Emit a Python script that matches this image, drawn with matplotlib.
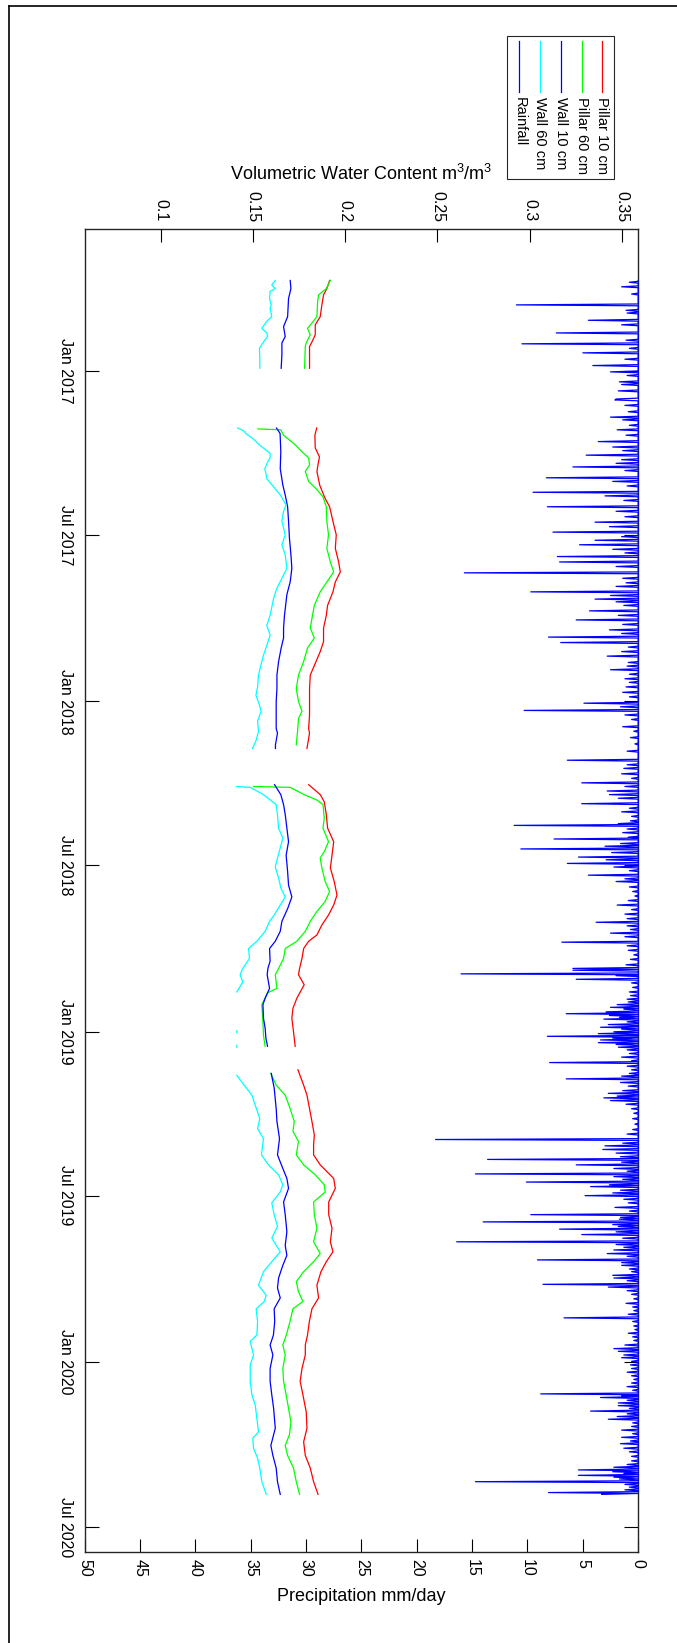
import numpy as np
import matplotlib
matplotlib.use("Agg")
import matplotlib.pyplot as plt
from matplotlib.lines import Line2D
from matplotlib.patches import Rectangle

plt.rcParams["font.family"] = ["Liberation Sans", "DejaVu Sans"]
plt.rcParams["mathtext.fontset"] = "custom"
plt.rcParams["mathtext.rm"] = "Liberation Sans"
plt.rcParams["mathtext.it"] = "Liberation Sans:italic"
plt.rcParams["mathtext.bf"] = "Liberation Sans:bold"

nan = np.nan

# ---------------------------------------------------------------------------
# Data: all times are days after 1 Jan 2017; NaN values split the record gaps
# ---------------------------------------------------------------------------
DAY0 = np.datetime64("2017-01-01T00:00")

pillar10_day = [-100, -91, -84, -73, -60, -51, -40, -32, -27, -3, 30,
                63, 71, 85, 95, 100, 111, 126, 141, 150, 166, 181, 196, 211, 222, 233, 244, 259, 270,
                284, 299, 310, 323, 336, 351, 365, 380, 395, 400, 417, 440,
                457, 468, 476, 490, 505, 520, 535, 549, 564, 579, 590, 601, 612, 623, 630, 638, 649,
                660, 667, 678, 693, 704, 715, 730, 746, 760,
                772, 789, 800, 815, 829, 844, 855, 866, 877, 892, 903, 918, 932, 947, 962, 973, 984,
                995, 1010, 1024, 1036, 1050, 1065, 1076, 1087, 1102, 1116, 1131, 1150, 1168, 1183,
                1198, 1212, 1227, 1241]
pillar10 = [0.1915, 0.1900, 0.1882, 0.1873, 0.1864, 0.1837, 0.1837, 0.1819, 0.1806, 0.1806, nan,
            0.1845, 0.1835, 0.1837, 0.1860, 0.1855, 0.1846, 0.1861, 0.1891, 0.1915, 0.1933, 0.1951,
            0.1946, 0.1964, 0.1973, 0.1946, 0.1933, 0.1904, 0.1897, 0.1882, 0.1882, 0.1864, 0.1837,
            0.1810, 0.1806, 0.1806, 0.1806, 0.1801, 0.1806, 0.1792, nan,
            0.1801, 0.1864, 0.1886, 0.1897, 0.1904, 0.1937, 0.1928, 0.1919, 0.1940, 0.1955, 0.1937,
            0.1909, 0.1873, 0.1846, 0.1801, 0.1774, 0.1765, 0.1752, 0.1746, 0.1777, 0.1737, 0.1716,
            0.1710, 0.1719, 0.1728, nan,
            0.1743, 0.1774, 0.1792, 0.1806, 0.1819, 0.1832, 0.1828, 0.1828, 0.1864, 0.1937, 0.1946,
            0.1910, 0.1910, 0.1928, 0.1919, 0.1933, 0.1897, 0.1868, 0.1846, 0.1855, 0.1819, 0.1805,
            0.1795, 0.1783, 0.1783, 0.1765, 0.1755, 0.1770, 0.1788, 0.1792, 0.1774, 0.1783, 0.1810,
            0.1828, 0.1852]

pillar60_day = [-100, -91, -84, -77, -60, -53, -47, -40, -31, -27, -3, 30,
                64, 65, 71, 80, 91, 96, 104, 111, 122, 131, 139, 150, 166, 181, 196, 211, 222, 233,
                244, 259, 270, 284, 295, 306, 321, 336, 351, 365, 376, 384, 398, 413, 440,
                459, 460, 468, 474, 479, 494, 505, 520, 531, 538, 549, 564, 575, 586, 597, 608, 619,
                630, 638, 649, 660, 667, 682, 687, 700, 719, 734, 746, 760,
                776, 789, 800, 815, 829, 840, 851, 866, 877, 888, 899, 907, 918, 932, 947, 962, 975,
                984, 995, 1006, 1017, 1028, 1036, 1050, 1065, 1076, 1087, 1102, 1116, 1131, 1146,
                1161, 1175, 1187, 1198, 1212, 1227, 1241]
pillar60 = [0.1919, 0.1897, 0.1855, 0.1850, 0.1846, 0.1819, 0.1795, 0.1810, 0.1788, 0.1783, 0.1779, nan,
            0.1526, 0.1650, 0.1665, 0.1720, 0.1774, 0.1801, 0.1806, 0.1783, 0.1801, 0.1846, 0.1879,
            0.1897, 0.1900, 0.1909, 0.1900, 0.1919, 0.1937, 0.1900, 0.1864, 0.1832, 0.1822, 0.1810,
            0.1832, 0.1795, 0.1774, 0.1746, 0.1734, 0.1746, 0.1765, 0.1746, 0.1741, 0.1734, nan,
            0.1502, 0.1701, 0.1777, 0.1846, 0.1879, 0.1886, 0.1879, 0.1909, 0.1886, 0.1864, 0.1873,
            0.1891, 0.1915, 0.1891, 0.1846, 0.1810, 0.1783, 0.1737, 0.1674, 0.1665, 0.1638, 0.1620,
            0.1629, 0.1578, 0.1547, 0.1553, 0.1556, 0.1565, nan,
            0.1596, 0.1625, 0.1674, 0.1701, 0.1723, 0.1716, 0.1746, 0.1734, 0.1774, 0.1837, 0.1886,
            0.1891, 0.1828, 0.1832, 0.1846, 0.1828, 0.1864, 0.1828, 0.1774, 0.1734, 0.1746, 0.1770,
            0.1716, 0.1700, 0.1680, 0.1661, 0.1674, 0.1661, 0.1665, 0.1679, 0.1692, 0.1705, 0.1697,
            0.1674, 0.1687, 0.1719, 0.1734, 0.1752]

wall10_day = [-100, -91, -80, -60, -49, -38, -31, -18, -3, 30,
              63, 69, 89, 108, 126, 137, 150, 166, 185, 203, 218, 233, 247, 270, 284, 295, 306, 321,
              336, 351, 365, 380, 395, 400, 413, 417, 440,
              457, 468, 479, 490, 505, 520, 535, 553, 568, 581, 594, 608, 619, 630, 638, 652, 660,
              667, 682, 693, 700, 715, 726, 737, 746, 760,
              776, 792, 815, 829, 848, 866, 881, 892, 903, 918, 932, 951, 966, 977, 988, 1002, 1013,
              1024, 1036, 1050, 1065, 1076, 1087, 1102, 1116, 1131, 1146, 1168, 1187, 1198, 1212,
              1227, 1241]
wall10 = [0.1701, 0.1705, 0.1692, 0.1687, 0.1665, 0.1674, 0.1656, 0.1656, 0.1652, nan,
          0.1627, 0.1646, 0.1650, 0.1647, 0.1661, 0.1674, 0.1687, 0.1692, 0.1697, 0.1705, 0.1710,
          0.1701, 0.1683, 0.1670, 0.1665, 0.1665, 0.1652, 0.1638, 0.1629, 0.1629, 0.1625, 0.1625,
          0.1625, 0.1632, 0.1621, 0.1621, nan,
          0.1616, 0.1650, 0.1665, 0.1674, 0.1683, 0.1692, 0.1679, 0.1687, 0.1692, 0.1710, 0.1687,
          0.1656, 0.1647, 0.1620, 0.1589, 0.1592, 0.1580, 0.1576, 0.1589, 0.1565, 0.1553, 0.1556,
          0.1565, 0.1569, 0.1578, nan,
          0.1598, 0.1614, 0.1625, 0.1629, 0.1643, 0.1632, 0.1661, 0.1683, 0.1692, 0.1665, 0.1674,
          0.1683, 0.1674, 0.1683, 0.1661, 0.1638, 0.1632, 0.1647, 0.1614, 0.1617, 0.1610, 0.1592,
          0.1607, 0.1592, 0.1592, 0.1601, 0.1611, 0.1620, 0.1596, 0.1607, 0.1625, 0.1632, 0.1647]

wall60_day = [-100, -95, -91, -88, -80, -73, -69, -60, -55, -47, -42, -38, -32, -25, -14, -3, 30,
              63, 66, 69, 75, 82, 91, 96, 100, 108, 114, 119, 128, 137, 148, 155, 166, 181, 192,
              203, 218, 229, 240, 251, 270, 281, 292, 305, 314, 325, 336, 349, 358, 369, 376, 387,
              398, 408, 417, 440,
              459, 460, 468, 479, 490, 505, 516, 527, 538, 548, 560, 571, 581, 590, 601, 608, 619,
              630, 638, 649, 660, 667, 675, 686, 710, 729, 731, 738, 745, 747, 760,
              778, 789, 800, 811, 826, 837, 848, 866, 877, 888, 899, 907, 919, 932, 945, 958, 973,
              984, 995, 1010, 1021, 1028, 1036, 1050, 1065, 1072, 1087, 1098, 1116, 1131, 1142,
              1157, 1172, 1179, 1190, 1201, 1212, 1227, 1241]
wall60 = [0.1620, 0.1601, 0.1620, 0.1592, 0.1589, 0.1598, 0.1592, 0.1601, 0.1574, 0.1547, 0.1574,
          0.1578, 0.1556, 0.1534, 0.1536, 0.1536, nan,
          0.1416, 0.1448, 0.1460, 0.1500, 0.1536, 0.1592, 0.1592, 0.1580, 0.1563, 0.1570, 0.1574,
          0.1611, 0.1647, 0.1679, 0.1665, 0.1656, 0.1674, 0.1656, 0.1674, 0.1683, 0.1656, 0.1629,
          0.1611, 0.1592, 0.1574, 0.1592, 0.1571, 0.1556, 0.1542, 0.1529, 0.1524, 0.1515, 0.1534,
          0.1543, 0.1524, 0.1529, 0.1516, 0.1496, nan,
          0.1411, 0.1484, 0.1556, 0.1625, 0.1632, 0.1638, 0.1661, 0.1647, 0.1632, 0.1620, 0.1638,
          0.1650, 0.1674, 0.1647, 0.1614, 0.1589, 0.1565, 0.1520, 0.1475, 0.1480, 0.1444, 0.1429,
          0.1444, 0.1411, nan, 0.1411, 0.1411, nan, 0.1411, 0.1411, nan,
          0.1411, 0.1451, 0.1493, 0.1511, 0.1536, 0.1524, 0.1556, 0.1545, 0.1583, 0.1638, 0.1661,
          0.1647, 0.1601, 0.1614, 0.1632, 0.1601, 0.1647, 0.1601, 0.1556, 0.1529, 0.1571, 0.1560,
          0.1516, 0.1524, 0.1520, 0.1484, 0.1502, 0.1484, 0.1484, 0.1493, 0.1511, 0.1520, 0.1529,
          0.1498, 0.1502, 0.1524, 0.1536, 0.1547, 0.1571]

# daily rainfall (mm/day); days not listed had no rain
rain_first, rain_last = -100, 1241
rain_day = [-98, -93, -85, -73, -67, -64, -56, -51, -42, -34, -30, -25, -20, -13, -6, 1, 5, 12, 15,
            22, 31, 32, 38, 45, 51, 54, 60, 65, 71, 78, 84, 88, 93, 98, 102, 106, 110, 118, 122,
            127, 134, 138, 143, 150, 155, 161, 167, 172, 178, 183, 187, 192, 197, 201, 205, 211,
            216, 223, 229, 234, 238, 244, 248, 252, 255, 259, 265, 270, 275, 280, 286, 290, 294,
            300, 305, 310, 315, 322, 326, 330, 335, 340, 344, 349, 355, 360, 367, 371, 375, 380,
            385, 393, 398, 405, 412, 420, 430, 435, 439, 445, 450, 455, 459, 464, 468, 472, 478,
            483, 487, 492, 497, 500, 502, 506, 510, 515, 517, 522, 525, 528, 532, 537, 540, 544,
            548, 552, 557, 561, 564, 570, 575, 580, 585, 590, 595, 600, 605, 609, 613, 617, 621,
            625, 631, 635, 640, 645, 650, 656, 660, 662, 666, 668, 672, 676, 681, 686, 690, 694,
            697, 700, 703, 705, 708, 710, 712, 714, 716, 719, 722, 725, 727, 730, 732, 735, 737,
            739, 742, 744, 747, 750, 754, 758, 762, 764, 768, 772, 776, 779, 782, 786, 790, 795,
            798, 801, 803, 806, 810, 815, 820, 826, 832, 838, 843, 849, 853, 856, 860, 864, 868,
            871, 874, 877, 881, 884, 887, 890, 893, 896, 899, 901, 905, 908, 911, 915, 919, 924,
            928, 932, 935, 937, 940, 943, 945, 948, 951, 954, 958, 962, 965, 968, 971, 975, 978,
            982, 985, 988, 992, 995, 999, 1002, 1005, 1009, 1012, 1016, 1020, 1025, 1030, 1034,
            1038, 1042, 1046, 1050, 1055, 1059, 1063, 1067, 1071, 1076, 1080, 1083, 1087, 1090,
            1094, 1098, 1102, 1106, 1110, 1114, 1118, 1122, 1126, 1130, 1132, 1134, 1137, 1140,
            1143, 1146, 1149, 1152, 1155, 1158, 1162, 1166, 1170, 1174, 1178, 1182, 1185, 1190,
            1194, 1199, 1204, 1208, 1211, 1214, 1216, 1218, 1220, 1222, 1224, 1227, 1230, 1233,
            1236, 1239, 1241]
rain_mm = [0.8, 1.5, 0.6, 11.0, 1.1, 1.0, 4.5, 1.5, 7.4, 1.1, 10.5, 0.8, 5.0, 1.2, 4.1, 2.5, 1.0,
           1.7, 1.5, 1.8, 2.0, 2.1, 1.2, 0.9, 2.5, 1.4, 0.8, 1.9, 1.1, 3.6, 2.3, 1.4, 4.7, 1.5,
           2.0, 5.9, 1.2, 8.3, 2.3, 1.0, 9.5, 3.0, 1.3, 8.2, 2.0, 1.2, 3.9, 2.6, 7.7, 1.5, 3.9,
           5.3, 2.3, 1.2, 7.3, 7.1, 2.0, 15.7, 1.4, 1.1, 2.0, 9.7, 2.5, 3.9, 2.0, 1.3, 4.4, 1.8,
           5.6, 1.4, 2.6, 1.5, 8.1, 7.0, 0.9, 1.5, 2.8, 0.9, 1.0, 2.5, 0.8, 1.2, 0.8, 1.1, 1.4,
           0.8, 4.9, 1.6, 10.3, 1.2, 0.6, 1.4, 0.4, 0.7, 0.3, 1.0, 6.4, 1.0, 1.3, 1.5, 0.6, 5.1,
           1.2, 2.8, 2.6, 1.8, 5.1, 0.8, 1.5, 0.6, 0.7, 1.8, 11.2, 1.0, 1.4, 0.9, 7.6, 1.6, 3.0,
           10.6, 2.4, 5.4, 2.9, 6.4, 2.2, 0.8, 4.5, 1.2, 2.0, 0.8, 0.5, 0.3, 0.9, 1.9, 0.6, 1.2,
           1.0, 3.8, 1.0, 0.7, 2.5, 1.2, 6.9, 1.0, 0.9, 0.4, 0.7, 1.1, 5.9, 5.9, 16.0, 2.0, 5.6,
           0.6, 0.5, 0.8, 0.7, 1.0, 0.9, 1.9, 2.5, 1.3, 2.9, 6.5, 2.6, 1.7, 3.1, 1.0, 2.7, 3.4,
           1.5, 2.2, 3.6, 8.2, 2.3, 3.4, 3.6, 2.0, 1.8, 1.0, 0.8, 1.5, 0.6, 8.0, 1.0, 0.6, 0.8,
           1.5, 6.5, 1.6, 0.9, 1.4, 2.7, 1.9, 3.1, 2.5, 1.1, 0.6, 0.4, 0.5, 0.3, 0.5, 1.0, 18.3,
           1.4, 3.0, 3.2, 2.0, 1.6, 13.6, 1.5, 5.6, 2.2, 1.0, 14.7, 2.2, 1.4, 10.1, 2.6, 4.3, 1.6,
           2.3, 4.8, 1.3, 0.9, 2.1, 0.8, 9.7, 1.6, 1.7, 14.0, 2.3, 1.8, 7.1, 2.0, 5.1, 1.4, 16.4,
           2.0, 1.3, 2.2, 2.8, 1.0, 9.1, 1.5, 1.5, 0.8, 0.6, 2.3, 2.2, 1.0, 8.6, 2.7, 1.0, 0.6,
           0.4, 1.1, 0.5, 0.4, 0.9, 6.7, 0.5, 0.4, 0.3, 0.9, 0.5, 0.4, 1.2, 2.2, 1.8, 1.3, 1.5,
           0.6, 0.7, 0.6, 1.0, 0.6, 0.4, 0.6, 1.0, 0.5, 8.8, 1.5, 3.4, 1.0, 1.8, 1.8, 0.8, 4.3,
           1.0, 1.9, 2.7, 0.5, 0.6, 1.5, 0.5, 1.5, 0.7, 1.6, 1.3, 0.8, 0.6, 0.6, 1.0, 2.2, 5.4,
           2.3, 1.3, 5.4, 2.2, 1.7, 14.7, 1.2, 0.8, 1.2, 8.1, 3.3]

precip_ticks = [0, 5, 10, 15, 20, 25, 30, 35, 40, 45, 50]
vwc_ticks = [0.1, 0.15, 0.2, 0.25, 0.3, 0.35]
vwc_tick_labels = ["0.1", "0.15", "0.2", "0.25", "0.3", "0.35"]
date_ticks = ["2017-01-01", "2017-07-01", "2018-01-01", "2018-07-01",
              "2019-01-01", "2019-07-01", "2020-01-01", "2020-07-01"]
date_tick_labels = ["Jan 2017", "Jul 2017", "Jan 2018", "Jul 2018",
                    "Jan 2019", "Jul 2019", "Jan 2020", "Jul 2020"]

series = [("Pillar 10 cm", pillar10_day, pillar10, "#ff0000"),
          ("Pillar 60 cm", pillar60_day, pillar60, "#00ff00"),
          ("Wall 10 cm", wall10_day, wall10, "#0000ff"),
          ("Wall 60 cm", wall60_day, wall60, "#00ffff")]
rain_colour = "#0000ff"


def to_dates(days):
    hours = np.round(np.asarray(days, dtype=float) * 24).astype(int)
    return DAY0 + hours.astype("timedelta64[h]")


# ---------------------------------------------------------------------------
# Figure (the whole plot is laid out turned a quarter turn clockwise)
# ---------------------------------------------------------------------------
W, H = 677, 1643
fig = plt.figure(figsize=(W / 100, H / 100), dpi=100)


def fx(px):
    return px / W


def fy(py):
    return 1 - py / H


ax_l, ax_r, ax_t, ax_b = 84.6, 638.2, 229.3, 1552.3
ax = fig.add_axes([fx(ax_l), fy(ax_b), fx(ax_r) - fx(ax_l), fy(ax_t) - fy(ax_b)])

# rainfall as a daily line hanging from the zero edge
all_days = np.arange(rain_first, rain_last + 1)
daily = np.zeros(all_days.size)
daily[np.asarray(rain_day) - rain_first] = rain_mm
ax.plot(daily, to_dates(all_days), color=rain_colour, lw=0.9, zorder=3, clip_on=False)

ax.set_xlim(50, 0)
ax.set_ylim(to_dates([1305.0])[0], to_dates([-156.5])[0])

tick_fs = 11.5
ax.set_xticks(precip_ticks)
ax.set_xticklabels([str(t) for t in precip_ticks], rotation=-90, ha="center", va="top",
                   fontsize=tick_fs)
ax.set_yticks(np.array(date_ticks, dtype="datetime64[h]"))
ax.set_yticklabels(date_tick_labels, rotation=-90, ha="right", va="center", fontsize=tick_fs)
ax.tick_params(axis="x", direction="in", length=9.4, width=0.8, pad=5, color="black")
ax.tick_params(axis="y", direction="in", length=10, width=0.8, pad=8, left=True, right=True)
for s in ax.spines.values():
    s.set_linewidth(1.0)
    s.set_color("#262626")

# soil moisture on a second horizontal scale along the top
ax2 = ax.twiny()
for name, d, v, c in series:
    ax2.plot(v, to_dates(d), color=c, lw=0.9)
ax2.set_xlim(0.0585, 0.3590)
ax2.set_xticks(vwc_ticks)
ax2.set_xticklabels(vwc_tick_labels, rotation=-90, ha="center", va="bottom", fontsize=tick_fs)
ax2.tick_params(axis="x", direction="in", length=9.4, width=0.8, pad=5.5)
for s in ax2.spines.values():
    s.set_visible(False)

# axis titles
fig.text(fx((ax_l + ax_r) / 2), fy(180), r"Volumetric Water Content m$^3$/m$^3$",
         ha="center", va="baseline", fontsize=13)
fig.text(fx((ax_l + ax_r) / 2), fy(1601.3), "Precipitation mm/day",
         ha="center", va="baseline", fontsize=13)

# legend box, entries running right to left
fig.add_artist(Rectangle((fx(507.3), fy(179)), fx(614) - fx(507.3), fy(36) - fy(179),
                         transform=fig.transFigure, facecolor="white", edgecolor="#262626",
                         lw=0.8))
legend_items = [(s[0], s[3]) for s in series] + [("Rainfall", rain_colour)]
legend_x = [601.5, 581.6, 560.9, 540.2, 519.4]
for (label, colour), px in zip(legend_items, legend_x):
    fig.add_artist(Line2D([fx(px), fx(px)], [fy(41), fy(91.7)], transform=fig.transFigure,
                          color=colour, lw=0.9))
    fig.text(fx(px), fy(96.7), label, rotation=-90, ha="center", va="top", fontsize=10.5)

# outer frame edges
fig.add_artist(Line2D([fx(8.6), 1.0], [fy(6), fy(6)], transform=fig.transFigure,
                      color="black", lw=1.2))
fig.add_artist(Line2D([fx(8.6), fx(8.6)], [fy(6), 0.0], transform=fig.transFigure,
                      color="black", lw=1.2))

fig.savefig("out.png", dpi=100)
